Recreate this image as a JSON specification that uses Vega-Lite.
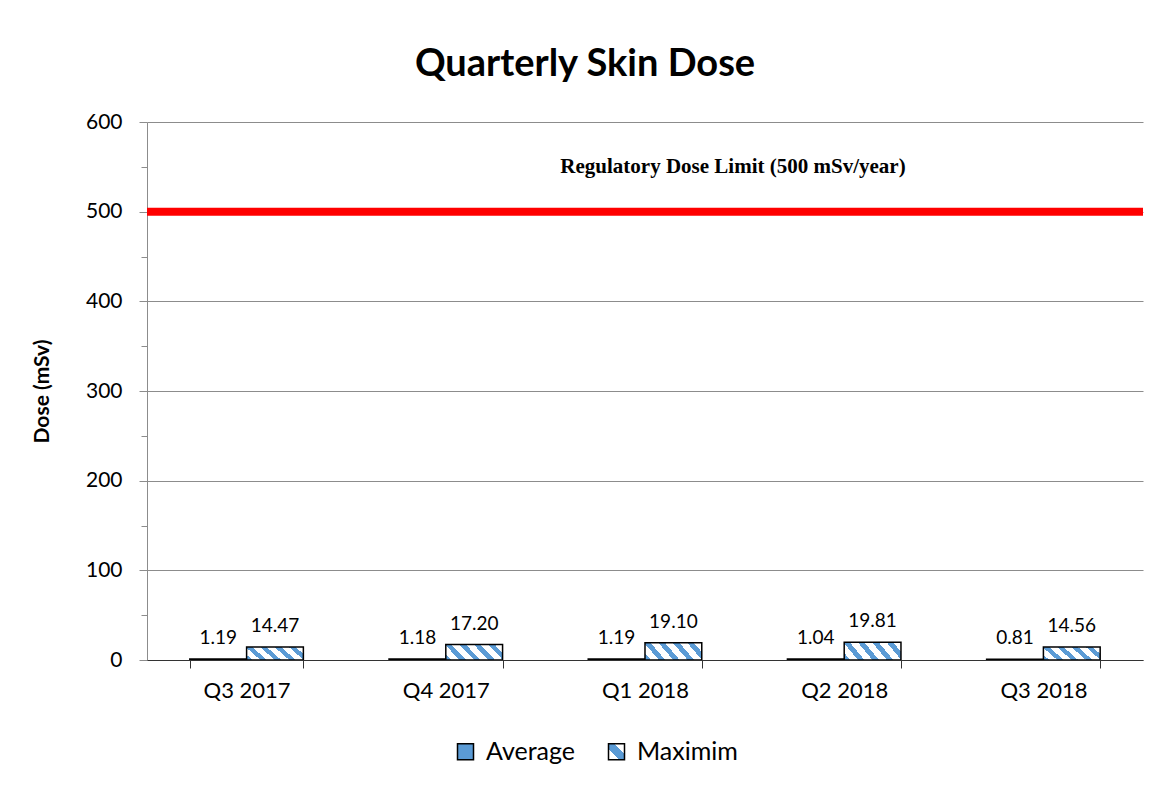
{
  "$schema": "https://vega.github.io/schema/vega-lite/v6.json",
  "width": 996,
  "height": 538,
  "autosize": {"type": "none"},
  "padding": {"left": 147, "top": 122, "right": 28, "bottom": 131},
  "background": "white",
  "config": {"view": {"stroke": null}, "font": "Lato"},
  "title": {
    "text": "Quarterly Skin Dose",
    "fontSize": 38,
    "fontWeight": "bold",
    "font": "Lato",
    "color": "black",
    "anchor": "middle",
    "frame": "group",
    "dx": -60,
    "offset": 27
  },
  "datasets": {
    "doses": [
      {"quarter": "Q3 2017", "series": "Average", "dose": 1.19},
      {"quarter": "Q3 2017", "series": "Maximim", "dose": 14.47},
      {"quarter": "Q4 2017", "series": "Average", "dose": 1.18},
      {"quarter": "Q4 2017", "series": "Maximim", "dose": 17.20},
      {"quarter": "Q1 2018", "series": "Average", "dose": 1.19},
      {"quarter": "Q1 2018", "series": "Maximim", "dose": 19.10},
      {"quarter": "Q2 2018", "series": "Average", "dose": 1.04},
      {"quarter": "Q2 2018", "series": "Maximim", "dose": 19.81},
      {"quarter": "Q3 2018", "series": "Average", "dose": 0.81},
      {"quarter": "Q3 2018", "series": "Maximim", "dose": 14.56}
    ],
    "limit": [
      {"limit": 500, "label": "Regulatory Dose Limit (500 mSv/year)", "quarter": "Q1 2018", "labelY": 543}
    ]
  },
  "layer": [
    {
      "data": {"name": "doses"},
      "mark": {"type": "bar", "stroke": "black", "strokeWidth": 1.5},
      "encoding": {
        "x": {
          "field": "quarter",
          "type": "nominal",
          "sort": null,
          "scale": {"domain": ["Q3 2017", "Q4 2017", "Q1 2018", "Q2 2018", "Q3 2018"], "paddingInner": 0.43, "paddingOuter": 0.215},
          "axis": {
            "title": null,
            "labelAngle": 0,
            "labelFontSize": 22,
            "labelColor": "black",
            "labelPadding": 12,
            "tickBand": "extent",
            "tickSize": 8,
            "tickColor": "#333333",
            "domainColor": "#333333",
            "domainWidth": 1,
            "zindex": 1
          }
        },
        "xOffset": {
          "field": "series",
          "type": "nominal",
          "scale": {"domain": ["Average", "Maximim"], "paddingInner": 0, "paddingOuter": 0}
        },
        "y": {
          "field": "dose",
          "type": "quantitative",
          "scale": {"domain": [0, 600], "nice": false},
          "axis": {
            "title": "Dose (mSv)",
            "titleFontSize": 21,
            "titleFontWeight": "bold",
            "titleColor": "black",
            "titlePadding": 33,
            "values": [0, 50, 100, 150, 200, 250, 300, 350, 400, 450, 500, 550, 600],
            "labelExpr": "datum.value % 100 === 0 ? datum.label : ''",
            "labelFontSize": 21,
            "labelColor": "black",
            "labelPadding": 17,
            "gridColor": "#8c8c8c",
            "gridOpacity": {"condition": {"test": "datum.value % 100 === 0", "value": 1}, "value": 0},
            "tickSize": {"condition": {"test": "datum.value % 100 === 0", "value": 8}, "value": 6},
            "tickColor": "#8c8c8c",
            "domainColor": "#8c8c8c"
          }
        },
        "opacity": {
          "field": "series",
          "type": "nominal",
          "scale": {"domain": ["Average", "Maximim"], "range": [1, 1]},
          "legend": {
            "title": null,
            "orient": "none",
            "legendX": 306,
            "legendY": 617,
            "direction": "horizontal",
            "symbolType": "square",
            "symbolSize": 256,
            "labelFontSize": 25,
            "labelColor": "black",
            "labelOffset": 8,
            "columnPadding": 28,
            "encoding": {
              "symbols": {
                "stroke": {"value": "black"},
                "strokeWidth": {"value": 1.5},
                "opacity": {"value": 1},
                "fillOpacity": {"value": 1},
                "fill": {
                  "condition": {
                    "test": "datum.value === 'Maximim'",
                    "value": {
                      "gradient": "linear",
                      "x1": 0, "y1": 1, "x2": 1, "y2": 0,
                      "stops": [
                        {"offset": 0, "color": "#ffffff"},
                        {"offset": 0.33, "color": "#ffffff"},
                        {"offset": 0.33, "color": "#5B9BD5"},
                        {"offset": 0.67, "color": "#5B9BD5"},
                        {"offset": 0.67, "color": "#ffffff"},
                        {"offset": 1, "color": "#ffffff"}
                      ]
                    }
                  },
                  "value": "#5B9BD5"
                }
              }
            }
          }
        },
        "fill": {
          "condition": {
            "test": "datum.series === 'Maximim'",
            "value": {
              "gradient": "linear",
              "x1": -0.19, "y1": 0.309, "x2": 1, "y2": 0,
              "stops": [
                {"offset": 0, "color": "#5B9BD5"},
                {"offset": 0.09, "color": "#5B9BD5"},
                {"offset": 0.09, "color": "#ffffff"},
                {"offset": 0.2, "color": "#ffffff"},
                {"offset": 0.2, "color": "#5B9BD5"},
                {"offset": 0.29, "color": "#5B9BD5"},
                {"offset": 0.29, "color": "#ffffff"},
                {"offset": 0.4, "color": "#ffffff"},
                {"offset": 0.4, "color": "#5B9BD5"},
                {"offset": 0.49, "color": "#5B9BD5"},
                {"offset": 0.49, "color": "#ffffff"},
                {"offset": 0.6, "color": "#ffffff"},
                {"offset": 0.6, "color": "#5B9BD5"},
                {"offset": 0.69, "color": "#5B9BD5"},
                {"offset": 0.69, "color": "#ffffff"},
                {"offset": 0.8, "color": "#ffffff"},
                {"offset": 0.8, "color": "#5B9BD5"},
                {"offset": 0.89, "color": "#5B9BD5"},
                {"offset": 0.89, "color": "#ffffff"},
                {"offset": 1, "color": "#ffffff"}
              ]
            }
          },
          "value": "#5B9BD5"
        }
      }
    },
    {
      "data": {"name": "doses"},
      "mark": {"type": "text", "dy": -15, "fontSize": 19, "color": "black", "baseline": "alphabetic"},
      "encoding": {
        "x": {"field": "quarter", "type": "nominal", "sort": null},
        "xOffset": {"field": "series", "type": "nominal"},
        "y": {"field": "dose", "type": "quantitative"},
        "text": {"field": "dose", "type": "quantitative", "format": ".2f"}
      }
    },
    {
      "data": {"name": "limit"},
      "mark": {"type": "rule", "color": "#ff0000", "strokeWidth": 8},
      "encoding": {
        "y": {"field": "limit", "type": "quantitative"}
      }
    },
    {
      "data": {"name": "limit"},
      "mark": {"type": "text", "font": "Liberation Serif", "fontWeight": "bold", "fontSize": 21, "color": "black", "dx": 88, "baseline": "alphabetic"},
      "encoding": {
        "x": {"field": "quarter", "type": "nominal", "sort": null},
        "y": {"field": "labelY", "type": "quantitative"},
        "text": {"field": "label", "type": "nominal"}
      }
    }
  ]
}
